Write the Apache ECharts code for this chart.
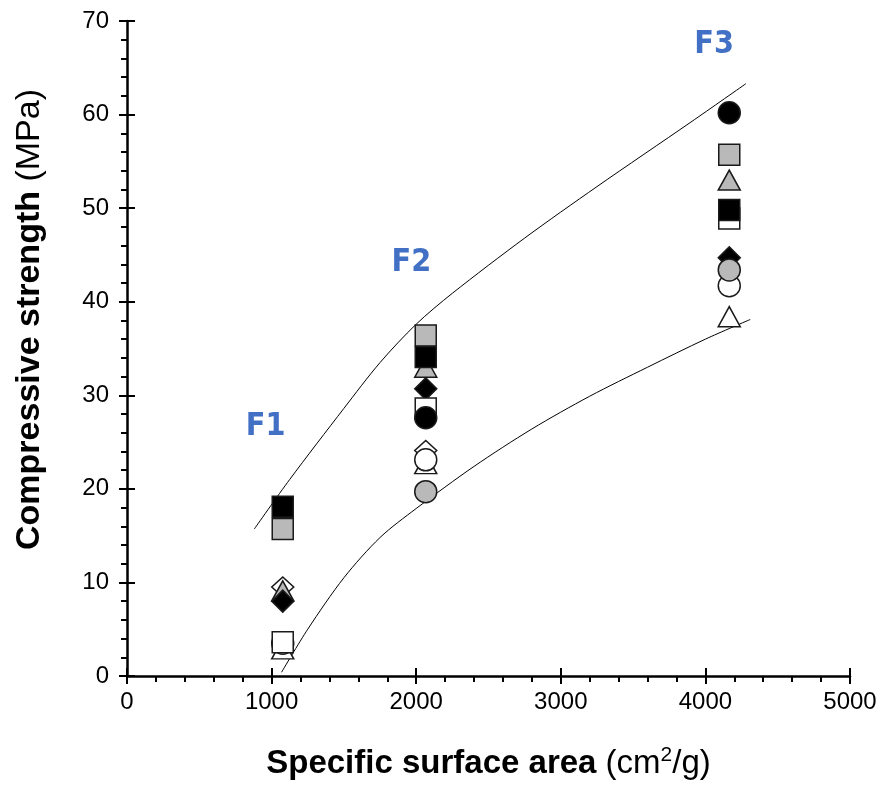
<!DOCTYPE html>
<html>
<head>
<meta charset="utf-8">
<script src="https://cdn.jsdelivr.net/npm/echarts@6/dist/echarts.min.js"></script>
<style>
  html, body { margin: 0; padding: 0; background: #fff; }
  #chart { width: 883px; height: 785px; }
</style>
</head>
<body>
<div id="chart"></div>
<script>
// fineness groups F1, F2, F3 (x = specific surface area, cm2/g)
const groupX = [1077, 2066, 4165];

// compressive strength (MPa) per mix, one value per group
const whiteTriangle = [2.9, 22.7, 38.4];
const whiteDiamond  = [9.5, 24.1, null];
const whiteCircle   = [3.5, 23.1, 41.7];
const grayTriangle  = [9.1, 33.0, 53.0];
const blackDiamond  = [8.0, 30.7, 44.7];
const grayCircle    = [null, 19.7, 43.4];
const graySquare    = [15.7, 36.4, 55.7];
const whiteSquare   = [3.6, 28.6, 48.9];
const blackSquare   = [18.1, 34.1, 49.8];
const blackCircle   = [null, 27.6, 60.2];

// envelope curves
const upperX = [880, 1125, 1500, 1750, 2000, 2250, 2750, 3250, 3900, 4280];
const upperY = [15.7, 21.0, 28.6, 33.5, 37.6, 40.9, 46.8, 52.3, 59.2, 63.3];
const lowerX = [1069, 1250, 1500, 1750, 2000, 2400, 2800, 3200, 3600, 4000, 4310];
const lowerY = [0.4, 5.0, 10.5, 14.8, 17.9, 22.4, 26.4, 29.9, 33.0, 36.0, 38.1];

// group labels
const labelText = ['F1', 'F2', 'F3'];
const labelX = [959, 1967, 4060];
const labelY = [26.6, 44.2, 67.5];

const GRAY = '#b9b9b9';
const EDGE = '#1a1a1a';
const FONT = 'Liberation Sans, Arial, sans-serif';

function pts(vals) {
  return groupX.map((x, i) => [x, vals[i]]).filter(p => p[1] != null);
}

function markers(name, vals, symbol, fill, size) {
  return {
    name: name,
    type: 'scatter',
    data: pts(vals),
    symbol: symbol,
    symbolSize: size,
    itemStyle: { color: fill, borderColor: EDGE, borderWidth: 1.5, opacity: 1 },
    z: 5
  };
}

function curve(xs, ys) {
  return {
    type: 'line',
    data: xs.map((x, i) => [x, ys[i]]),
    smooth: 0.3,
    showSymbol: false,
    silent: true,
    lineStyle: { color: '#000', width: 1 },
    z: 3
  };
}

const chart = echarts.init(document.getElementById('chart'));
const tickFont = { fontFamily: FONT, fontSize: 24, color: '#000', formatter: v => String(v) };

chart.setOption({
  animation: false,
  grid: { left: 127, right: 33, top: 21, bottom: 108 },
  xAxis: [
    {
      type: 'value', min: 0, max: 5000, interval: 1000, position: 'bottom',
      splitLine: { show: false },
      axisLine: { lineStyle: { color: '#000', width: 2.5 } },
      axisTick: { length: 8, lineStyle: { color: '#000', width: 2 } },
      minorTick: { show: true, splitNumber: 5, length: 6, lineStyle: { color: '#000', width: 2 } },
      axisLabel: Object.assign({ margin: 14 }, tickFont),
      name: '{b|Specific surface area}{n| (cm}{s|2}{n|/g)}',
      nameLocation: 'middle',
      nameGap: 69,
      nameTextStyle: {
        rich: {
          b: { fontFamily: FONT, fontSize: 33, fontWeight: 'bold', color: '#000' },
          n: { fontFamily: FONT, fontSize: 33, color: '#000' },
          s: { fontFamily: FONT, fontSize: 21, color: '#000', padding: [0, 0, 16, 0] }
        }
      }
    },
    {
      type: 'value', min: 0, max: 5000, interval: 1000, position: 'bottom',
      splitLine: { show: false },
      axisLine: { show: false },
      axisTick: { inside: true, length: 8, lineStyle: { color: '#000', width: 2 } },
      axisLabel: { show: false }
    }
  ],
  yAxis: [
    {
      type: 'value', min: 0, max: 70, interval: 10, position: 'left',
      splitLine: { show: false },
      axisLine: { show: true, lineStyle: { color: '#000', width: 2.5 } },
      axisTick: { show: true, length: 8, lineStyle: { color: '#000', width: 2 } },
      minorTick: { show: true, splitNumber: 5, length: 6, lineStyle: { color: '#000', width: 2 } },
      axisLabel: Object.assign({ margin: 18 }, tickFont),
      name: '{b|Compressive strength}{n| (MPa)}',
      nameLocation: 'middle',
      nameGap: 80,
      nameRotate: 90,
      nameTextStyle: {
        padding: [0, 0, 0, 58],
        rich: {
          b: { fontFamily: FONT, fontSize: 34, fontWeight: 'bold', color: '#000' },
          n: { fontFamily: FONT, fontSize: 34, color: '#000' }
        }
      }
    },
    {
      type: 'value', min: 0, max: 70, interval: 10, position: 'left',
      splitLine: { show: false },
      axisLine: { show: false },
      axisTick: { show: true, inside: true, length: 8, lineStyle: { color: '#000', width: 2 } },
      axisLabel: { show: false }
    }
  ],
  series: [
    curve(upperX, upperY),
    curve(lowerX, lowerY),
    markers('white triangle', whiteTriangle, 'triangle', '#fff', [22, 20]),
    markers('white diamond', whiteDiamond, 'diamond', '#fff', [22, 20]),
    markers('white circle', whiteCircle, 'circle', '#fff', 22),
    markers('gray triangle', grayTriangle, 'triangle', GRAY, [22, 20]),
    markers('black diamond', blackDiamond, 'diamond', '#000', [22, 22]),
    markers('gray circle', grayCircle, 'circle', GRAY, 22),
    markers('gray square', graySquare, 'rect', GRAY, 21),
    markers('white square', whiteSquare, 'rect', '#fff', 21),
    markers('black square', blackSquare, 'rect', '#000', 21),
    markers('black circle', blackCircle, 'circle', '#000', 22),
    {
      type: 'scatter',
      data: labelX.map((x, i) => [x, labelY[i], labelText[i]]),
      symbolSize: 0,
      silent: true,
      itemStyle: { opacity: 1 },
      label: {
        show: true,
        position: 'inside',
        formatter: p => p.data[2],
        fontFamily: "'Liberation Sans Narrow', 'DejaVu Sans Condensed', sans-serif",
        fontWeight: 'bold',
        fontSize: 32,
        color: '#4170c4'
      },
      z: 6
    }
  ]
});
</script>
</body>
</html>
